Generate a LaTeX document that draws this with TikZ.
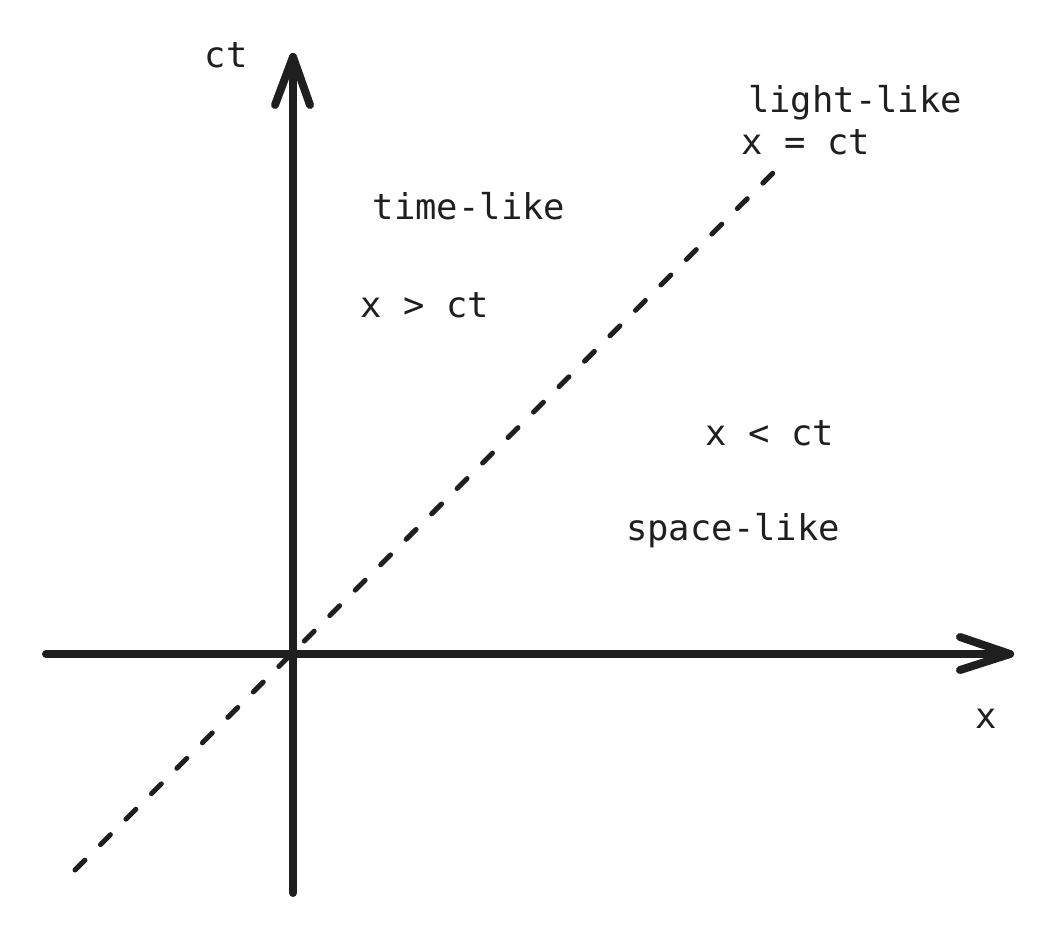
\documentclass[tikz,border=0pt]{standalone}
\usepackage{fontspec}
\setmonofont{DejaVu Sans Mono}
\usetikzlibrary{calc}
\begin{document}
\begin{tikzpicture}[x=1pt,y=-1pt,
  axis/.style={line width=8pt,line cap=round,line join=round,draw=black!88},
  light/.style={line width=5pt,line cap=round,dash pattern=on 14pt off 22pt,draw=black!88},
  lbl/.style={inner sep=0pt,anchor=base,font=\ttfamily\fontsize{35.5}{40}\selectfont,text=black!88}]
\useasboundingbox[fill=white] (0,0) rectangle (1064,933);
\coordinate (ybot) at (293,893);
\coordinate (ytop) at (293,57);
\coordinate (xl) at (46,654);
\coordinate (xr) at (1010,654);
\coordinate (lc0) at (75,870);
\coordinate (lc1) at (778,168);
\draw[light] (lc0) -- (lc1);
\draw[axis] (ybot) -- (ytop);
\draw[axis] ($(ytop)+(-18,48)$) -- (ytop) -- ($(ytop)+(17,48)$);
\draw[axis] (xl) -- (xr);
\draw[axis] ($(xr)+(-50,-17)$) -- (xr) -- ($(xr)+(-50,16)$);
\node[lbl] (ct) at (226,68) {ct};
\node[lbl] (x) at (986,728) {x};
\node[lbl] (ll) at (855,113) {light-like};
\node[lbl] (eq) at (806,155) {x = ct};
\node[lbl] (tl) at (469,220) {time-like};
\node[lbl] (gt) at (425,317) {x > ct};
\node[lbl] (lt) at (770,445) {x < ct};
\node[lbl] (sl) at (733,540) {space-like};
\end{tikzpicture}
\end{document}
